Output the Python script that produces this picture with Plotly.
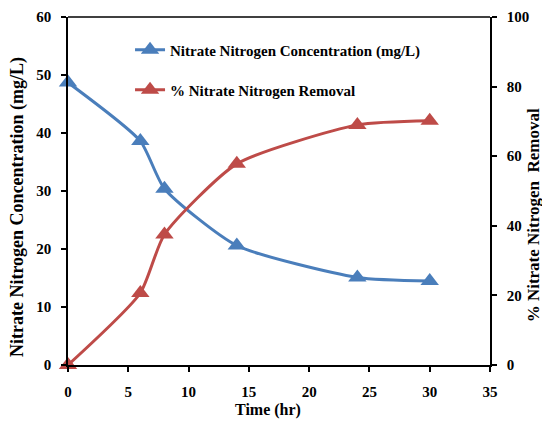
import plotly.graph_objects as go

time_hr = [0, 6, 8, 14, 24, 30]
nitrate_conc = [48.7, 38.6, 30.4, 20.6, 15.1, 14.5]
removal_pct = [0, 20.7, 37.5, 57.8, 69.0, 70.2]

blue = "#4a7ebb"
red = "#be4b48"
font_family = "Liberation Serif"

fig = go.Figure()
fig.add_trace(go.Scatter(
    x=time_hr, y=nitrate_conc, mode="lines+markers",
    name="Nitrate Nitrogen Concentration (mg/L)",
    line=dict(color=blue, width=3, shape="spline", smoothing=0.6),
    marker=dict(symbol="triangle-up", size=16, color=blue),
    legend="legend", yaxis="y", cliponaxis=False,
))
fig.add_trace(go.Scatter(
    x=time_hr, y=removal_pct, mode="lines+markers",
    name="% Nitrate Nitrogen Removal",
    line=dict(color=red, width=3, shape="spline", smoothing=0.6),
    marker=dict(symbol="triangle-up", size=16, color=red),
    legend="legend2", yaxis="y2", cliponaxis=False,
))

axis_common = dict(
    showgrid=False, zeroline=False, showline=True, linecolor="black", linewidth=1.5,
    ticks="outside", ticklen=5, tickcolor="black", tickwidth=1.5,
    ticklabelstandoff=7, automargin=False,
    tickfont=dict(family=font_family, size=15, color="black", weight="bold"),
)

fig.update_layout(
    width=542, height=422,
    margin=dict(l=68, r=52, t=17, b=57),
    paper_bgcolor="white", plot_bgcolor="white",
    font=dict(family=font_family, color="black"),
    xaxis=dict(range=[0, 35], dtick=5, **axis_common),
    yaxis=dict(range=[0, 60], dtick=10, **axis_common),
    yaxis2=dict(range=[0, 100], dtick=20, overlaying="y", side="right", **axis_common),
    legend=dict(x=0.147, y=0.905, xanchor="left", yanchor="middle", bgcolor="rgba(0,0,0,0)",
                font=dict(size=15, family=font_family, weight="bold")),
    legend2=dict(x=0.147, y=0.79, xanchor="left", yanchor="middle", bgcolor="rgba(0,0,0,0)",
                 font=dict(size=15, family=font_family, weight="bold")),
    showlegend=True,
    shapes=[dict(type="line", xref="paper", yref="paper", x0=0, x1=1, y0=1, y1=1,
                 line=dict(color="black", width=1.5))],
    annotations=[
        dict(text="Time (hr)", xref="paper", yref="paper", x=0.474, y=0, yshift=-45,
             xanchor="center", yanchor="middle", showarrow=False,
             font=dict(family=font_family, size=16, color="black", weight="bold")),
        dict(text="Nitrate Nitrogen Concentration (mg/L)", xref="paper", yref="paper",
             x=0, y=0.454, xshift=-51, textangle=-90, xanchor="center", yanchor="middle",
             showarrow=False, font=dict(family=font_family, size=18, color="black", weight="bold")),
        dict(text="% Nitrate Nitrogen  Removal", xref="paper", yref="paper",
             x=1, y=0.43, xshift=43, textangle=-90, xanchor="center", yanchor="middle",
             showarrow=False, font=dict(family=font_family, size=17, color="black", weight="bold")),
    ],
)

fig.write_html("out.html", config={"displayModeBar": False},
               post_script="document.body.style.margin='0';")
